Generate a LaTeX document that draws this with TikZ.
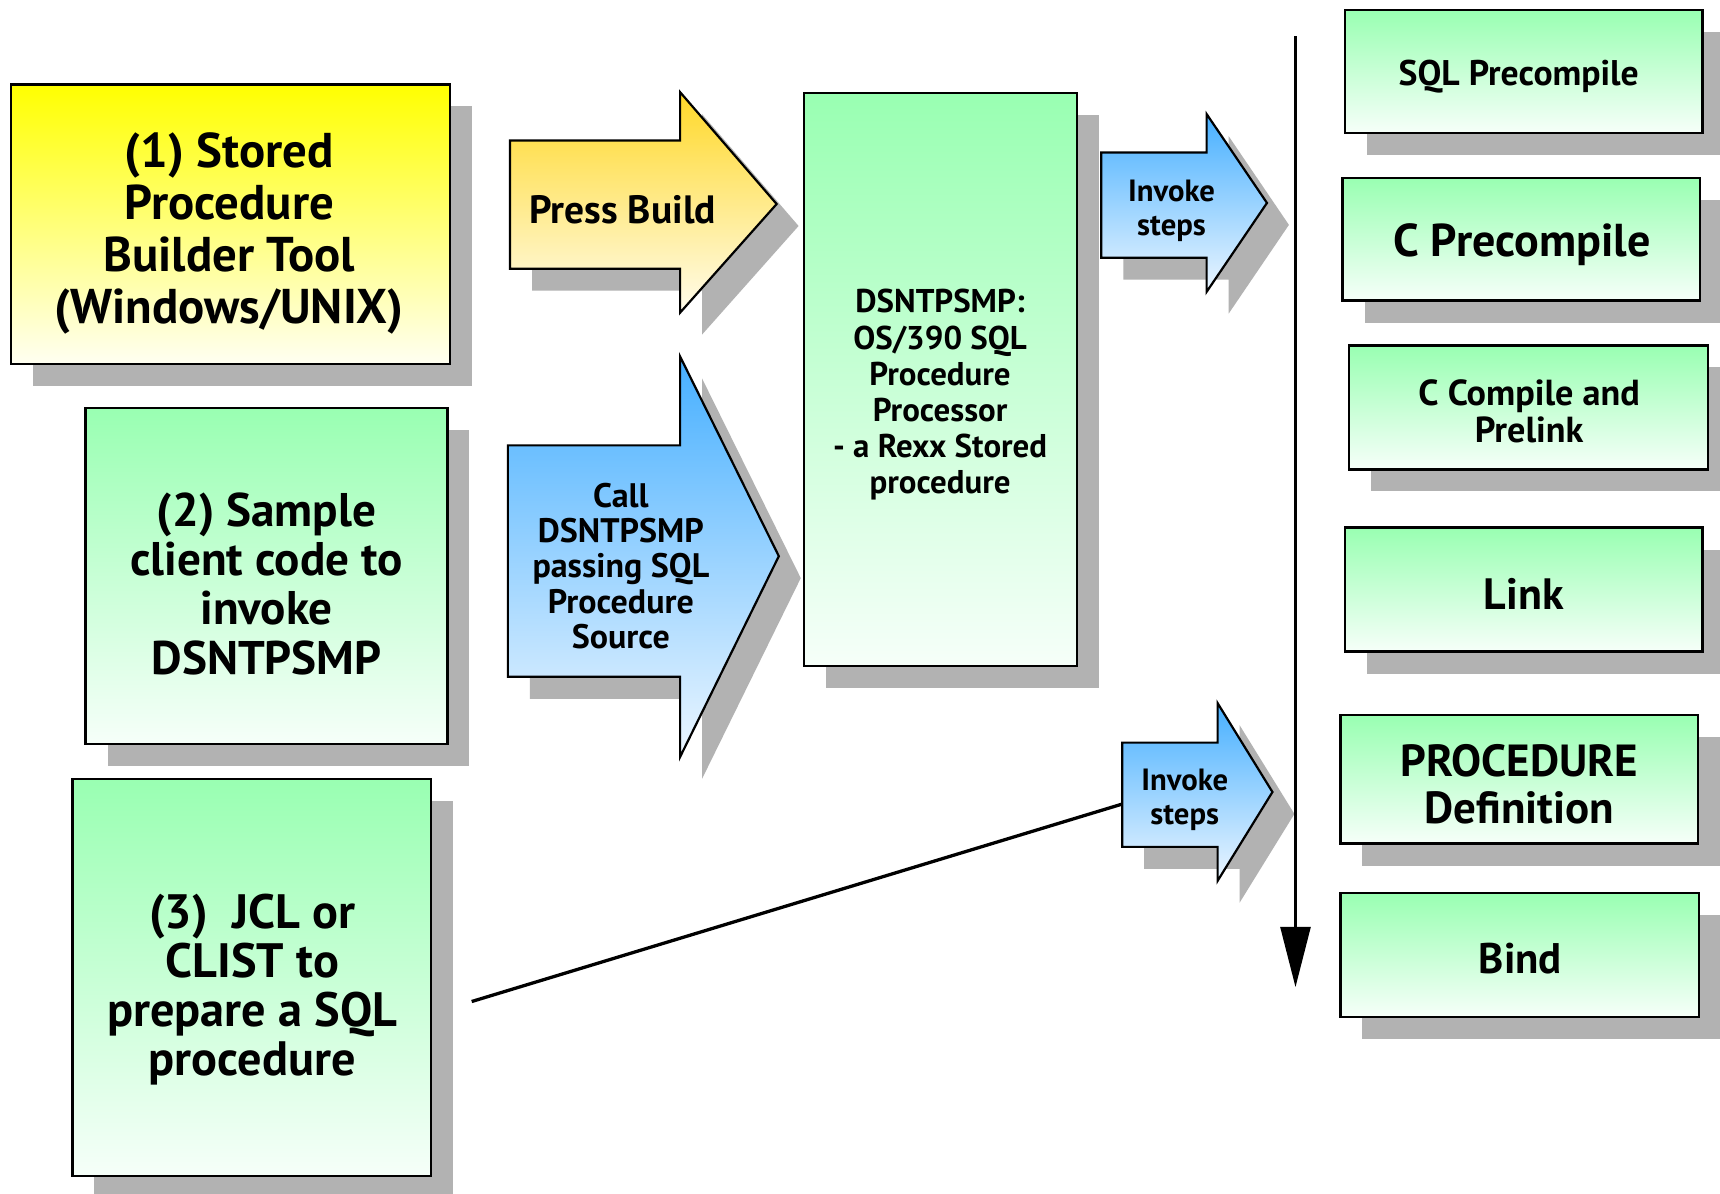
\documentclass[tikz,border=0pt]{standalone}
\usepackage{fontspec}
\setmainfont{PT Sans}
\usetikzlibrary{shadows,arrows.meta}
\definecolor{grtop}{RGB}{153,255,178}
\definecolor{grbot}{RGB}{246,255,249}
\definecolor{yltop}{RGB}{255,255,0}
\definecolor{ylbot}{RGB}{255,255,242}
\definecolor{gotop}{RGB}{255,216,40}
\definecolor{gobot}{RGB}{255,252,236}
\definecolor{bltop}{RGB}{70,175,255}
\definecolor{blbot}{RGB}{236,246,255}
\definecolor{shdgray}{RGB}{178,178,178}
\begin{document}
\begin{tikzpicture}[x=1pt,y=-1pt,
  shd/.style={drop shadow={shadow xshift=20pt,shadow yshift=-20pt,fill=shdgray,opacity=1}},
  boxbase/.style={draw=black,line width=2.2pt,shd,inner sep=0pt},
  gbox/.style={boxbase,top color=grtop,bottom color=grbot},
  ybox/.style={boxbase,top color=yltop,bottom color=ylbot},
  garrow/.style={draw=black,line width=2pt,line join=miter,shd,top color=gotop,bottom color=gobot},
  barrow/.style={draw=black,line width=2pt,line join=miter,shd,top color=bltop,bottom color=blbot},
  lbl/.style={align=center,inner sep=0pt},
  conn/.style={draw=black,line width=3pt}
]
\clip (0,0) rectangle (1568,1088);
\fill[white] (0,0) rectangle (1568,1088);

% left column
\node[ybox,minimum width=400pt,minimum height=255pt] (tool) at (210,204.5) {};
\node[lbl,font=\bfseries\fontsize{44.5}{47.5}\selectfont] (tooltext) at (209,213)
  {(1) Stored\\Procedure\\Builder Tool\\(Windows/UNIX)};
\node[gbox,minimum width=330pt,minimum height=306pt] (client) at (243,525) {};
\node[lbl,font=\bfseries\fontsize{43}{45}\selectfont] (clienttext) at (243,532)
  {(2) Sample\\client code to\\invoke\\DSNTPSMP};
\node[gbox,minimum width=327pt,minimum height=362pt] (jcl) at (229.5,891) {};
\node[lbl,font=\bfseries\fontsize{44}{44.5}\selectfont] (jcltext) at (230,902)
  {(3)\ \ JCL or\\CLIST to\\prepare a SQL\\procedure};

% middle arrows
\path[garrow] (465,128) -- (620,128) -- (620,84) -- (708,186) -- (620,285) -- (620,245) -- (465,245) -- cycle;
\node[lbl,font=\bfseries\fontsize{36}{40}\selectfont] (press) at (567.5,191) {Press Build};
\path[barrow] (463,406) -- (620,406) -- (620,325) -- (710,507) -- (620,690) -- (620,617) -- (463,617) -- cycle;
\node[lbl,font=\bfseries\fontsize{31}{32.3}\selectfont] (call) at (566,516)
  {Call\\DSNTPSMP\\passing SQL\\Procedure\\Source};

% processor box
\node[gbox,minimum width=249pt,minimum height=522pt] (dsn) at (857.5,346) {};
\node[lbl,font=\bfseries\fontsize{30}{33}\selectfont] (dsntext) at (857,360)
  {DSNTPSMP:\\OS/390 SQL\\Procedure\\Processor\\- a Rexx Stored\\procedure};

% invoke arrows
\path[barrow] (1004,139) -- (1100,139) -- (1100,104) -- (1155,185) -- (1100,266) -- (1100,235) -- (1004,235) -- cycle;
\node[lbl,font=\bfseries\fontsize{28}{31}\selectfont] (inv1) at (1068,192) {Invoke\\steps};
\path[barrow] (1023,677) -- (1110,677) -- (1110,641) -- (1160,722) -- (1110,803) -- (1110,772) -- (1023,772) -- cycle;
\node[lbl,font=\bfseries\fontsize{28}{31}\selectfont] (inv2) at (1080,729) {Invoke\\steps};

% flow line
\coordinate (flowtop) at (1181,33);
\coordinate (flowbot) at (1181,900);
\draw[line width=3.5pt,-{Triangle[length=55pt,width=27pt]}] (flowtop) -- (flowbot);

% connector from (3)
\coordinate (jclout) at (430,913);
\coordinate (inv2in) at (1023,733);
\draw[conn] (jclout) -- (inv2in);

% right column
\node[gbox,minimum width=326pt,minimum height=112pt] (sqlpre) at (1389,65) {};
\node[lbl,font=\bfseries\fontsize{32.5}{36}\selectfont] (sqlpretext) at (1384.5,70) {SQL Precompile};
\node[gbox,minimum width=326pt,minimum height=112pt] (cpre) at (1387,218) {};
\node[lbl,font=\bfseries\fontsize{42}{46}\selectfont] (cpretext) at (1387.5,223) {C Precompile};
\node[gbox,minimum width=327pt,minimum height=113pt] (ccomp) at (1393.5,371.5) {};
\node[lbl,font=\bfseries\fontsize{33}{33}\selectfont] (ccomptext) at (1394,375) {C Compile and\\Prelink};
\node[gbox,minimum width=326pt,minimum height=113pt] (link) at (1389,537.5) {};
\node[lbl,font=\bfseries\fontsize{40}{44}\selectfont] (linktext) at (1389,541) {Link};
\node[gbox,minimum width=326pt,minimum height=117pt] (procdef) at (1385,710.5) {};
\node[lbl,font=\bfseries\fontsize{41}{43}\selectfont] (procdeftext) at (1385,715) {PROCEDURE\\Definition};
\node[gbox,minimum width=327pt,minimum height=113pt] (bind) at (1385.5,870.5) {};
\node[lbl,font=\bfseries\fontsize{39}{43}\selectfont] (bindtext) at (1386,874) {Bind};
\end{tikzpicture}
\end{document}
